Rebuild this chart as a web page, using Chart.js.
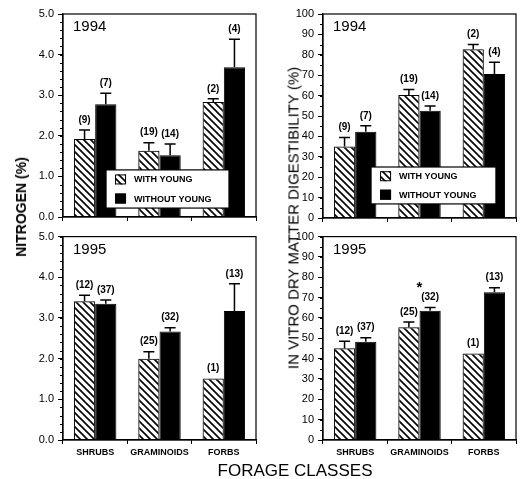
<!DOCTYPE html>
<html>
<head>
<meta charset="utf-8">
<script src="https://cdn.jsdelivr.net/npm/chart.js@4"></script>
<style>
  body { margin: 0; background: #fff; }
  #fig { position: relative; width: 521px; height: 479px; background: #fff; overflow: hidden;
         font-family: 'Liberation Sans', Arial, Helvetica, sans-serif; color: #000; }
  #fig canvas { position: absolute; }
  .title { position: absolute; white-space: nowrap; transform: translate(-50%, -50%); }
  .vtitle { transform: translate(-50%, -50%) rotate(-90deg); }
</style>
</head>
<body>
<div id="fig">
  <canvas id="n94" width="260" height="230" style="left:0;top:0"></canvas>
  <canvas id="d94" width="261" height="230" style="left:260px;top:0"></canvas>
  <canvas id="n95" width="260" height="240" style="left:0;top:226px"></canvas>
  <canvas id="d95" width="261" height="240" style="left:260px;top:226px"></canvas>
  <div class="title vtitle" style="left:21px;top:207px;font-size:14px;font-weight:bold">NITROGEN (%)</div>
  <div class="title vtitle" style="left:293px;top:218px;font-size:15px">IN VITRO DRY MATTER DIGESTIBILITY (%)</div>
  <div class="title" style="left:295px;top:471px;font-size:17px">FORAGE CLASSES</div>
</div>
<script>
const categories = ['SHRUBS', 'GRAMINOIDS', 'FORBS'];
const seriesNames = ['WITH YOUNG', 'WITHOUT YOUNG'];
const nitrogenTicks = [0, 1, 2, 3, 4, 5];
const ivdmdTicks = [0, 10, 20, 30, 40, 50, 60, 70, 80, 90, 100];

// nitrogen (%), 1994
const n94With = [1.92, 1.63, 2.83];
const n94WithSE = [0.22, 0.20, 0.08];
const n94Without = [2.78, 1.52, 3.69];
const n94WithoutSE = [0.27, 0.28, 0.69];
const n94WithN = [9, 19, 2];
const n94WithoutN = [7, 14, 4];

// digestibility (%), 1994
const d94With = [35.0, 60.3, 82.7];
const d94WithSE = [4.5, 2.7, 2.4];
const d94Without = [42.3, 52.6, 70.6];
const d94WithoutSE = [2.9, 2.3, 5.7];
const d94WithN = [9, 19, 2];
const d94WithoutN = [7, 14, 4];

// nitrogen (%), 1995
const n95With = [3.41, 2.00, 1.51];
const n95WithSE = [0.15, 0.17, null];
const n95Without = [3.35, 2.67, 3.17];
const n95WithoutSE = [0.09, 0.09, 0.67];
const n95WithN = [12, 25, 1];
const n95WithoutN = [37, 32, 13];

// digestibility (%), 1995
const d95With = [45.1, 55.4, 42.5];
const d95WithSE = [3.5, 2.6, null];
const d95Without = [48.3, 63.6, 72.6];
const d95WithoutSE = [2.0, 1.6, 2.3];
const d95WithN = [12, 25, 1];
const d95WithoutN = [37, 32, 13];
const d95Signif = ['', '*', ''];

const FONT = "'Liberation Sans', Arial, Helvetica, sans-serif";

function makeHatch() {
    const c = document.createElement('canvas');
    c.width = 7; c.height = 7;
    const g = c.getContext('2d');
    g.strokeStyle = '#000';
    g.lineWidth = 1.6;
    g.beginPath();
    g.moveTo(-1, -1); g.lineTo(8, 8);
    g.moveTo(-1, 6); g.lineTo(1, 8);
    g.moveTo(6, -1); g.lineTo(8, 1);
    g.stroke();
    return g.createPattern(c, 'repeat');
}
const HATCH = makeHatch();

const panelPlugin = {
    id: 'panel',
    afterDatasetsDraw(chart, args, o) {
        const ctx = chart.ctx;
        const a = chart.chartArea;
        const y = chart.scales.y;
        const w = a.right - a.left, h = a.bottom - a.top;
        ctx.save();
        ctx.strokeStyle = '#000';
        ctx.fillStyle = '#000';

        // frame round the plot
        ctx.lineWidth = 1.2;
        ctx.strokeRect(a.left, a.top, w, h);

        // minor ticks on the value axis
        ctx.lineWidth = 1;
        for (let v = 0; v <= y.max + 1e-9; v += o.minor) {
            const py = Math.round(y.getPixelForValue(v)) + 0.5;
            ctx.beginPath();
            ctx.moveTo(a.left - 3, py);
            ctx.lineTo(a.left, py);
            ctx.stroke();
        }

        // error bars and sample sizes
        ctx.font = 'bold 10px ' + FONT;
        ctx.textAlign = 'center';
        ctx.textBaseline = 'middle';
        const groupTop = [], groupX = [];
        chart.data.datasets.forEach((ds, di) => {
            chart.getDatasetMeta(di).data.forEach((bar, i) => {
                const e = ds.se[i];
                const top = y.getPixelForValue(ds.data[i] + (e || 0));
                if (e) {
                    ctx.lineWidth = 1.5;
                    ctx.beginPath();
                    ctx.moveTo(bar.x, bar.y);
                    ctx.lineTo(bar.x, top);
                    ctx.moveTo(bar.x - 5.5, top);
                    ctx.lineTo(bar.x + 5.5, top);
                    ctx.stroke();
                }
                ctx.fillText('(' + ds.n[i] + ')', bar.x, top - 10);
                groupTop[i] = Math.min(groupTop[i] ?? Infinity, top);
                groupX[i] = (groupX[i] ?? 0) + bar.x / chart.data.datasets.length;
            });
        });

        if (o.signif) {
            ctx.font = 'bold 15px ' + FONT;
            ctx.textBaseline = 'alphabetic';
            o.signif.forEach((s, i) => {
                if (s) ctx.fillText(s, groupX[i], groupTop[i] - 15);
            });
        }

        // year
        ctx.font = '15px ' + FONT;
        ctx.textAlign = 'left';
        ctx.textBaseline = 'middle';
        ctx.fillText(o.year, a.left + 10, a.top + 13);

        // legend box
        if (o.legend) {
            const L = o.legend;
            const lx = a.left + L.x0 * w, rx = a.left + L.x1 * w;
            const ty = a.top + L.y0 * h, by = a.top + L.y1 * h;
            ctx.fillStyle = '#fff';
            ctx.fillRect(lx, ty, rx - lx, by - ty);
            ctx.lineWidth = 1.2;
            ctx.strokeRect(lx, ty, rx - lx, by - ty);
            chart.data.datasets.forEach((ds, di) => {
                const cy = ty + (di === 0 ? 0.25 : 0.75) * (by - ty);
                ctx.fillStyle = ds.backgroundColor;
                ctx.fillRect(lx + 9, cy - 5, 11, 10);
                ctx.lineWidth = 1;
                ctx.strokeRect(lx + 9.5, cy - 4.5, 10, 9);
                ctx.fillStyle = '#000';
                ctx.font = 'bold 9px ' + FONT;
                ctx.fillText(ds.label, lx + 28, cy + 0.5);
            });
        }
        ctx.restore();
    }
};

function makePanel(id, cfg) {
    const ticks = cfg.yTicks;
    return new Chart(document.getElementById(id), {
        type: 'bar',
        data: {
            labels: categories,
            datasets: [
                {
                    label: seriesNames[0],
                    data: cfg.withY, se: cfg.withSE, n: cfg.withN,
                    backgroundColor: HATCH,
                    borderColor: '#000',
                    borderWidth: 1
                },
                {
                    label: seriesNames[1],
                    data: cfg.withoutY, se: cfg.withoutSE, n: cfg.withoutN,
                    backgroundColor: '#000',
                    borderColor: '#000',
                    borderWidth: 1
                }
            ]
        },
        options: {
            responsive: false,
            animation: false,
            layout: { padding: cfg.pad },
            datasets: { bar: { categoryPercentage: 0.66, barPercentage: 1.0 } },
            plugins: {
                legend: { display: false },
                tooltip: { enabled: false },
                panel: { year: cfg.year, minor: cfg.minor, legend: cfg.legend, signif: cfg.signif }
            },
            scales: {
                x: {
                    grid: { offset: true, drawOnChartArea: false, color: '#000', tickLength: 4 },
                    border: { color: '#000', width: 1.2 },
                    ticks: {
                        display: cfg.xLabels,
                        color: '#000',
                        padding: 3,
                        maxRotation: 0,
                        font: { family: FONT, size: 9, weight: 'bold' }
                    },
                    afterFit: s => { s.height = cfg.xh; }
                },
                y: {
                    min: ticks[0],
                    max: ticks[ticks.length - 1],
                    grid: { drawOnChartArea: false, color: '#000', tickLength: 5 },
                    border: { color: '#000', width: 1.2 },
                    ticks: {
                        stepSize: ticks[1] - ticks[0],
                        color: '#000',
                        padding: 4,
                        font: { family: FONT, size: 11 },
                        callback: v => cfg.fmt(v)
                    },
                    afterFit: s => { s.width = 63; }
                }
            }
        },
        plugins: [panelPlugin]
    });
}

const fmtN = v => v.toFixed(1);
const fmtD = v => String(v);

makePanel('n94', {
    year: '1994', withY: n94With, withSE: n94WithSE, withN: n94WithN,
    withoutY: n94Without, withoutSE: n94WithoutSE, withoutN: n94WithoutN,
    yTicks: nitrogenTicks, minor: 0.2, fmt: fmtN, xLabels: false,
    pad: { top: 14, right: 4, bottom: 0, left: 0 }, xh: 13,
    legend: { x0: 0.223, x1: 0.86, y0: 0.768, y1: 0.956 }
});
makePanel('d94', {
    year: '1994', withY: d94With, withSE: d94WithSE, withN: d94WithN,
    withoutY: d94Without, withoutSE: d94WithoutSE, withoutN: d94WithoutN,
    yTicks: ivdmdTicks, minor: 5, fmt: fmtD, xLabels: false,
    pad: { top: 14, right: 5, bottom: 0, left: 0 }, xh: 12,
    legend: { x0: 0.249, x1: 0.896, y0: 0.75, y1: 0.931 }
});
makePanel('n95', {
    year: '1995', withY: n95With, withSE: n95WithSE, withN: n95WithN,
    withoutY: n95Without, withoutSE: n95WithoutSE, withoutN: n95WithoutN,
    yTicks: nitrogenTicks, minor: 0.2, fmt: fmtN, xLabels: true,
    pad: { top: 10, right: 4, bottom: 0, left: 0 }, xh: 26
});
makePanel('d95', {
    year: '1995', withY: d95With, withSE: d95WithSE, withN: d95WithN,
    withoutY: d95Without, withoutSE: d95WithoutSE, withoutN: d95WithoutN,
    yTicks: ivdmdTicks, minor: 5, fmt: fmtD, xLabels: true,
    pad: { top: 9, right: 5, bottom: 0, left: 0 }, xh: 26,
    signif: d95Signif
});
</script>
</body>
</html>
